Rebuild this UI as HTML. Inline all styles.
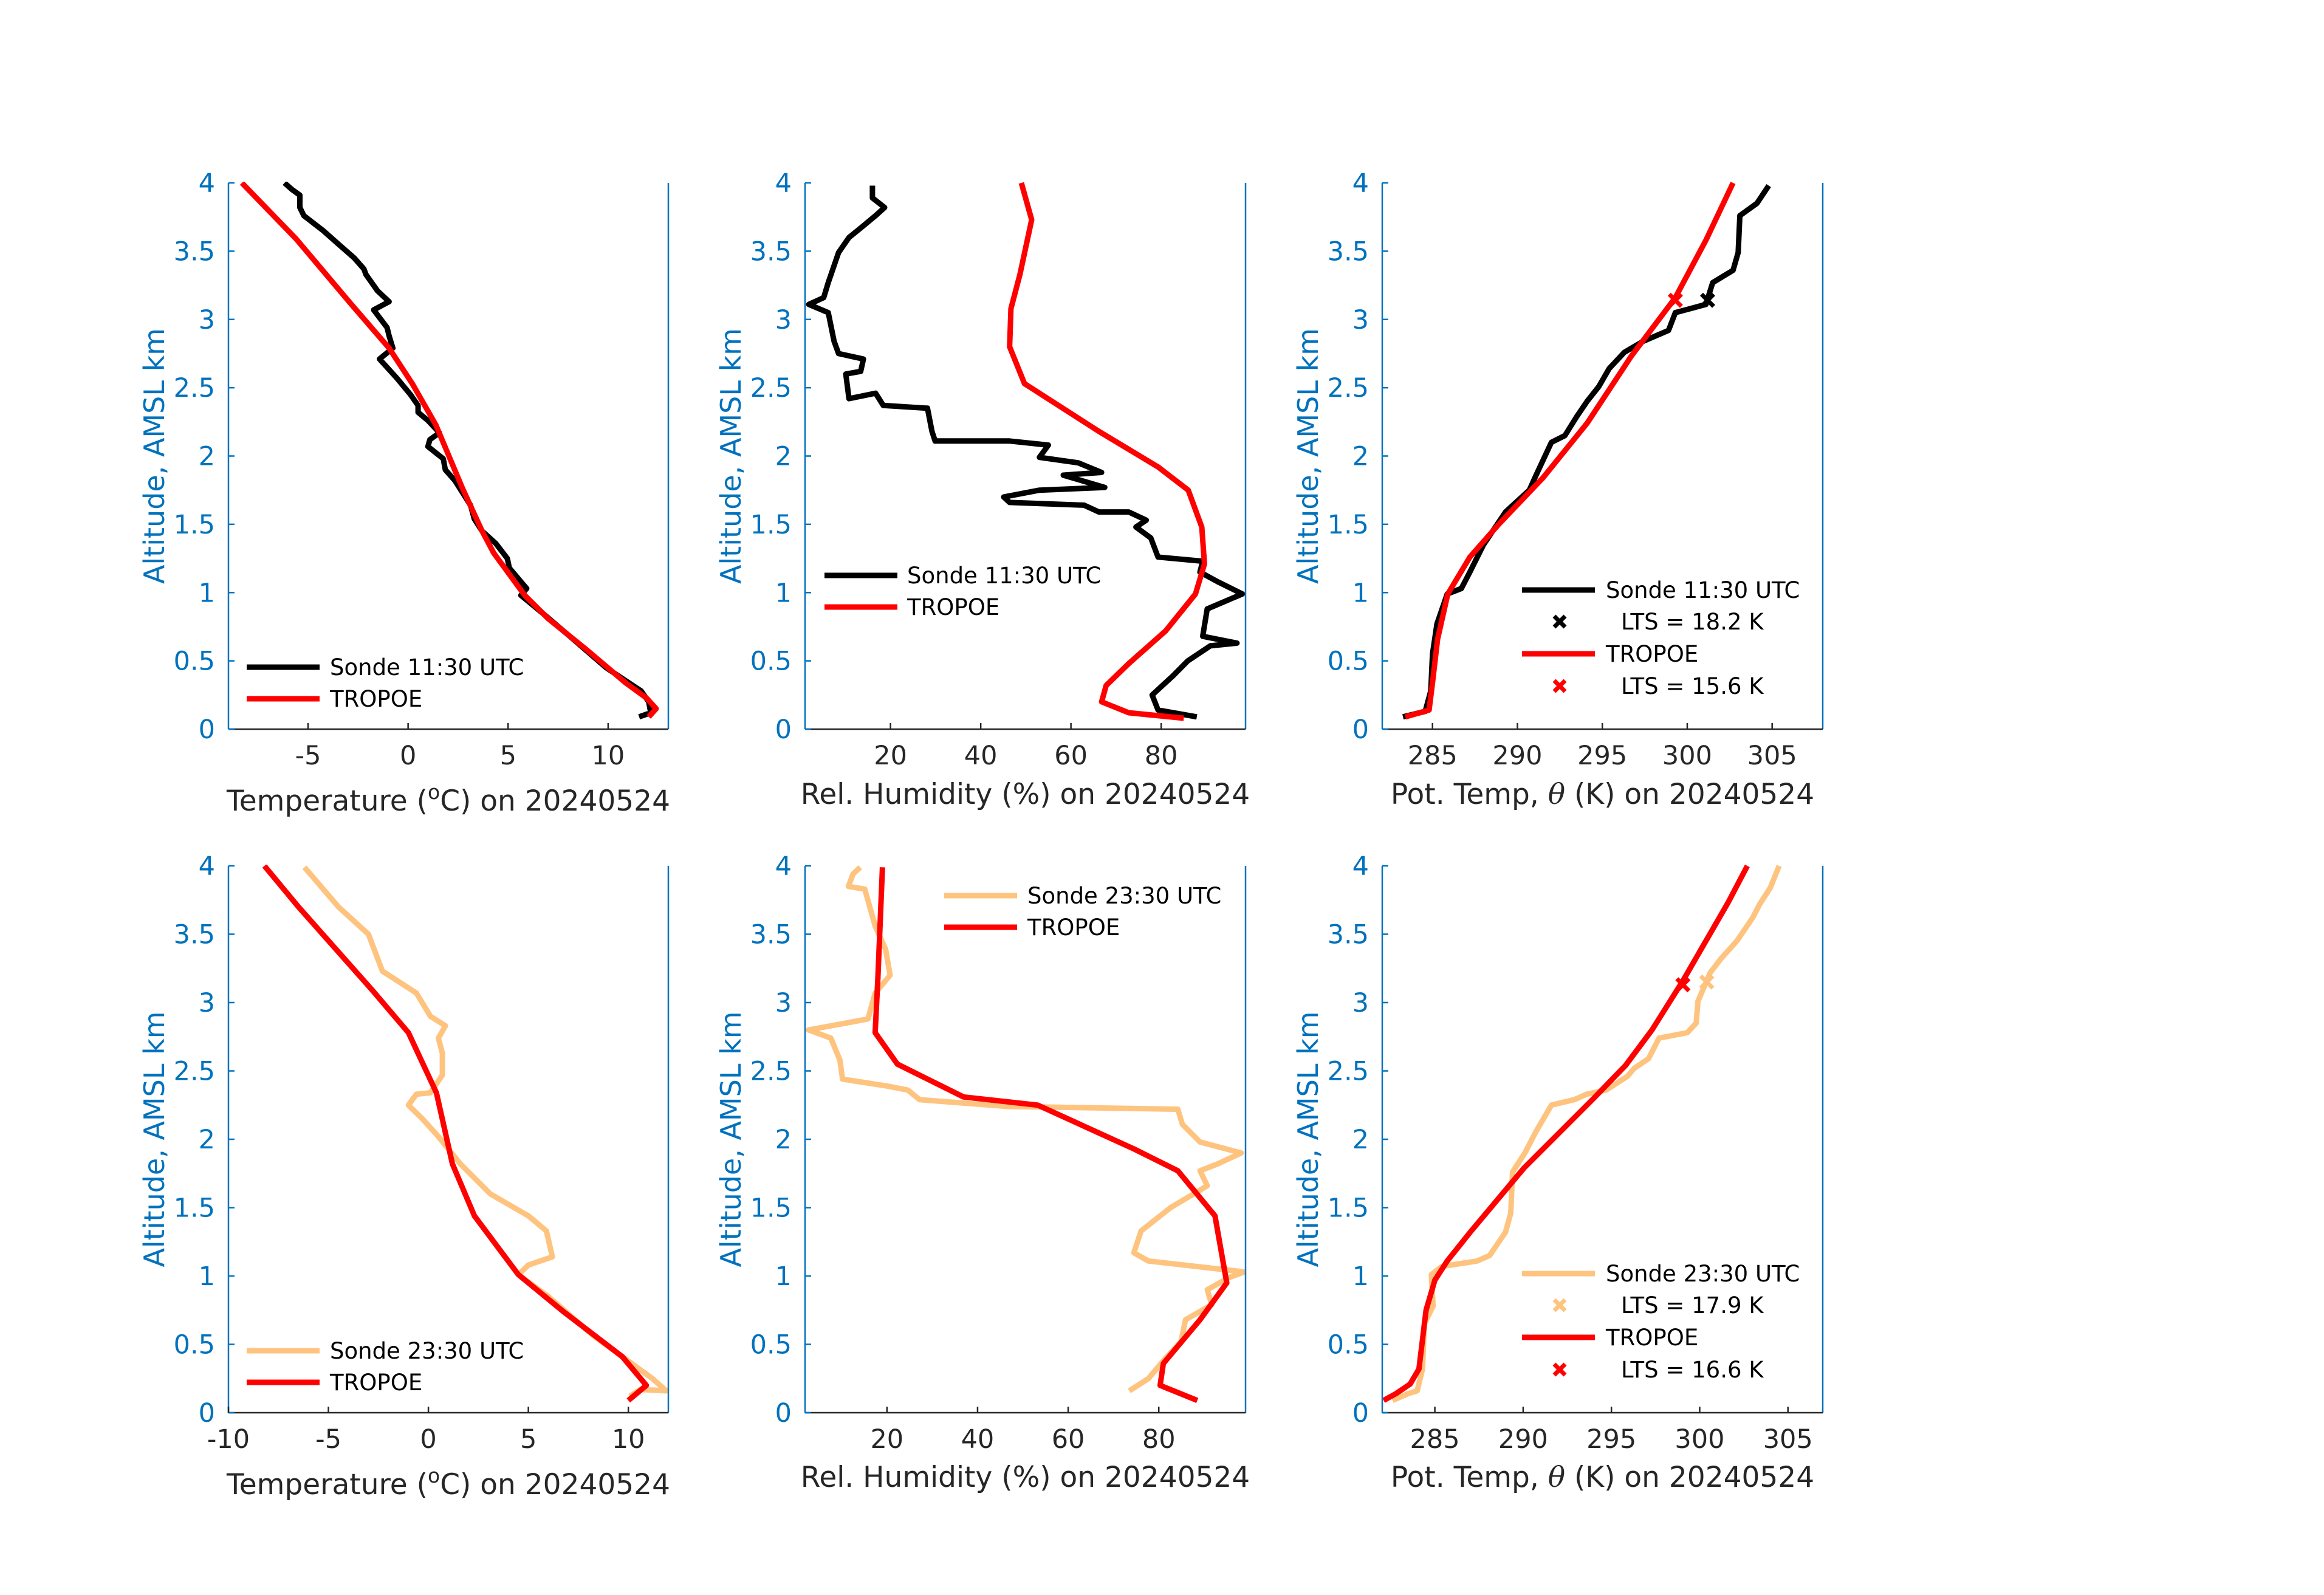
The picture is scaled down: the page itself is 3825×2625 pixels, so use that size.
<!DOCTYPE html>
<html><head><meta charset="utf-8">
<style>
html,body{margin:0;padding:0;background:#fff;}
svg{display:block;}
text{font-family:"DejaVu Sans","Liberation Sans",sans-serif;}
</style></head>
<body>
<svg id="fig" width="3825" height="2625" viewBox="0 0 3825 2625" xmlns="http://www.w3.org/2000/svg">
<rect width="3825" height="2625" fill="#fff"/>
</svg>
<script>
// ---------- data (value, altitude km) ----------
const sonde1130TempT = [11.55,12.13,12.03,11.65,9.9,8.16,6.8,5.64,5.93,5.64,5.06,4.96,4.38,3.70,3.31,3.12,2.73,2.34,1.86,1.76,0.99,1.09,1.57,0.99,0.50,0.50,0.12,-0.56,-1.43,-0.76,-0.95,-1.05,-1.72,-0.95,-1.53,-2.11,-2.21,-2.69,-3.47,-4.24,-5.21,-5.41,-5.41,-5.79,-6.18];
const sonde1130TempZ = [0.09,0.12,0.20,0.28,0.45,0.67,0.84,0.98,1.03,1.08,1.18,1.25,1.36,1.45,1.54,1.64,1.73,1.82,1.90,1.98,2.07,2.12,2.17,2.26,2.32,2.37,2.45,2.57,2.71,2.79,2.88,2.94,3.07,3.13,3.21,3.33,3.37,3.45,3.55,3.65,3.76,3.82,3.91,3.95,4.0];
const tropoeAmTempT = [12.03,12.4,11.9,10.87,8.93,7.0,5.83,4.28,3.70,2.73,1.38,0.21,-0.95,-2.89,-5.6,-8.31];
const tropoeAmTempZ = [0.09,0.15,0.23,0.34,0.58,0.81,0.98,1.29,1.45,1.76,2.23,2.53,2.79,3.12,3.59,4.0];

const sonde1130RH = [87.9,79.3,78,82.6,85.9,90.9,96.8,89.2,90.2,98,92.5,88.6,89.2,79.3,77.7,74.4,76.7,72.8,66.2,62.9,46.4,45.1,53,67.5,58.3,66.8,61.6,53,55,46.4,29.9,29.2,28.2,18.4,16.7,10.8,10.1,13.4,14,8.5,7.5,6.2,1.9,5.2,6.2,8.5,10.8,13.4,16.7,18.7,16,16];
const sonde1130RHZ = [0.09,0.14,0.25,0.39,0.5,0.61,0.63,0.68,0.88,0.99,1.08,1.15,1.23,1.26,1.40,1.48,1.53,1.59,1.59,1.64,1.66,1.70,1.75,1.77,1.86,1.88,1.95,1.99,2.08,2.11,2.11,2.18,2.35,2.37,2.46,2.42,2.60,2.62,2.71,2.75,2.84,3.05,3.11,3.16,3.27,3.49,3.60,3.67,3.76,3.82,3.89,3.98];
const tropoeAmRH = [85,72.8,66.8,67.8,72.8,81,87.6,89.6,89,86,79.3,66.2,49.7,46.4,46.7,48.7,51.3,49];
const tropoeAmRHZ = [0.08,0.12,0.20,0.32,0.48,0.72,0.99,1.21,1.48,1.75,1.92,2.18,2.53,2.80,3.08,3.33,3.73,4.0];

const sonde1130Theta = [283.26,284.57,284.9,285,285.26,285.87,286.7,287.2,288,289.3,290.7,291.1,292,292.8,293.5,294.1,294.8,295.4,296.3,297.4,298.9,299.3,301.1,301.5,302.7,303,303.1,304.1,304.8];
const sonde1130ThetaZ = [0.09,0.13,0.28,0.55,0.77,0.99,1.03,1.15,1.35,1.59,1.75,1.86,2.10,2.15,2.29,2.40,2.51,2.64,2.76,2.84,2.92,3.05,3.11,3.27,3.36,3.49,3.76,3.85,3.98];
const tropoeAmTheta = [283.4,284.8,285,285.3,285.9,287.2,288.9,291.5,294.1,296.7,299.3,301.1,302.7];
const tropoeAmThetaZ = [0.09,0.14,0.34,0.66,0.99,1.26,1.5,1.84,2.24,2.73,3.16,3.58,4.0];
const ltsAm = [[301.2,3.14],[299.3,3.14]];

const sonde2330TempT = [10.07,10.6,11.9,11.2,8.2,6.0,4.5,5.0,6.2,5.9,5.0,3.1,1.6,0.5,-0.3,-1.0,-0.6,0.1,0.7,0.7,0.5,0.85,0.1,-0.6,-2.3,-3.0,-4.5,-6.2];
const sonde2330TempZ = [0.12,0.17,0.16,0.25,0.57,0.85,1.01,1.08,1.14,1.33,1.44,1.60,1.82,2.02,2.15,2.25,2.33,2.34,2.47,2.63,2.74,2.83,2.90,3.07,3.23,3.50,3.70,3.99];
const tropoePmTempT = [10.0,10.9,9.7,6.75,4.5,2.3,1.2,0.4,-1.0,-2.8,-6.5,-8.2];
const tropoePmTempZ = [0.09,0.20,0.41,0.74,1.01,1.44,1.82,2.34,2.78,3.09,3.70,4.0];

const sonde2330RH = [73.5,77.7,81,84.9,85.9,91.7,90.7,95.6,98.9,77.7,74.5,76.1,82.6,90.7,89.1,93,98.2,89.1,85.2,84.2,46.7,27.2,24.6,20,10.2,9.6,7.6,2.7,10.9,15.8,17.4,20.7,19.7,17.4,15.1,11.5,12.5,14.1];
const sonde2330RHZ = [0.16,0.25,0.38,0.52,0.68,0.79,0.90,0.99,1.03,1.11,1.17,1.33,1.50,1.66,1.77,1.82,1.90,1.98,2.11,2.22,2.24,2.29,2.36,2.39,2.44,2.58,2.74,2.80,2.85,2.88,3.07,3.20,3.39,3.56,3.83,3.85,3.94,3.99];
const tropoePmRH = [88.5,80.3,81,89.1,95,92.4,84.2,74.5,53.3,36.9,22.3,17.4,18,19];
const tropoePmRHZ = [0.09,0.20,0.36,0.68,0.95,1.44,1.77,1.93,2.25,2.31,2.55,2.78,3.18,3.99];

const sonde2330Theta = [282.6,283.5,284.0,284.3,284.4,284.9,284.8,285.4,287.4,288.1,289.0,289.3,289.4,290.1,290.7,291.6,292.9,293.6,294.7,295.9,296.3,297.1,297.7,299.3,299.8,299.9,300.6,301.2,302.1,303.0,303.4,304.0,304.5];
const sonde2330ThetaZ = [0.09,0.14,0.16,0.32,0.65,0.78,1.01,1.07,1.11,1.15,1.32,1.46,1.76,1.90,2.05,2.25,2.29,2.33,2.36,2.46,2.52,2.59,2.74,2.78,2.85,3.01,3.22,3.32,3.45,3.62,3.72,3.84,4.0];
const tropoePmTheta = [282.1,282.8,283.6,284.1,284.5,285,285.7,287,290.05,294,295.8,297.3,299.05,301.6,302.7];
const tropoePmThetaZ = [0.09,0.14,0.21,0.32,0.75,0.97,1.11,1.32,1.79,2.30,2.54,2.80,3.16,3.73,4.0];
const ltsPm = [[300.4,3.15],[299.05,3.13]];

const altTicks = [0,0.5,1,1.5,2,2.5,3,3.5,4];
const altTickLabels = ['0','0.5','1','1.5','2','2.5','3','3.5','4'];
const tempTicksTop = [-5,0,5,10];
const tempTicksBottom = [-10,-5,0,5,10];
const rhTicks = [20,40,60,80];
const thetaTicks = [285,290,295,300,305];

// ---------- drawing ----------
const NS = 'http://www.w3.org/2000/svg';
const svg = document.getElementById('fig');
const BLUE = '#0072BD', DARK = '#262626', RED = '#FF0000', ORANGE = '#FEC47F';

function mk(tag, attrs, parent){
  const e = document.createElementNS(NS, tag);
  for (const k in attrs) e.setAttribute(k, attrs[k]);
  (parent || svg).appendChild(e);
  return e;
}

function panel(o){
  const g = mk('g', {});
  
  
  const L=o.x0, R=o.x1, T=o.y0, B=o.y1;
  const sx = v => L + (v - o.xmin) / (o.xmax - o.xmin) * (R - L);
  const sy = v => B - v / 4 * (B - T);
  const cid = 'clip-' + o.name;
  const cp = mk('clipPath', {id: cid}, g);
  mk('rect', {x: L, y: T - 2, width: R - L, height: B - T + 4}, cp);
  o.series.forEach(s => {
    const pts = s.x.map((v, i) => sx(v).toFixed(1) + ',' + sy(s.z[i]).toFixed(1)).join(' ');
    const pl = mk('polyline', {points: pts, fill: 'none', stroke: s.color, 'stroke-width': 9, 'stroke-linejoin': 'round', 'clip-path': 'url(#' + cid + ')'}, g);
    
    
  });
  (o.markers || []).forEach(m => {
    const cx = sx(m.v[0]), cy = sy(m.v[1]);
    const mg = mk('g', {stroke: m.color, 'stroke-width': 7}, g);
    
    
    mk('line', {x1: cx - 10, y1: cy - 10, x2: cx + 10, y2: cy + 10}, mg);
    mk('line', {x1: cx - 10, y1: cy + 10, x2: cx + 10, y2: cy - 10}, mg);
  });
  const ya = mk('line', {x1: L, y1: T, x2: L, y2: B, stroke: BLUE, 'stroke-width': 2.5}, g);
  
  
  const ya2 = mk('line', {x1: R, y1: T, x2: R, y2: B, stroke: BLUE, 'stroke-width': 2.5}, g);
  
  
  const xa = mk('line', {x1: L, y1: B, x2: R, y2: B, stroke: DARK, 'stroke-width': 2.5}, g);
  
  
  altTicks.forEach((v, i) => {
    const y = sy(v);
    mk('line', {x1: L, y1: y, x2: L + 10, y2: y, stroke: BLUE, 'stroke-width': 2.5}, g);
    const t = mk('text', {x: L - 22, y: y + 15, 'text-anchor': 'end', 'font-size': 43, fill: BLUE}, g);
    t.textContent = altTickLabels[i];
    
    
  });
  o.xticks.forEach(v => {
    const x = sx(v);
    mk('line', {x1: x, y1: B, x2: x, y2: B - 10, stroke: DARK, 'stroke-width': 2.5}, g);
    const t = mk('text', {x: x, y: B + 58, 'text-anchor': 'middle', 'font-size': 43, fill: DARK}, g);
    t.textContent = String(v);
    
    
  });
  const yl = mk('text', {x: 0, y: 0, 'text-anchor': 'middle', 'font-size': 46, fill: BLUE, transform: 'translate(' + (L - 106) + ',' + ((T + B) / 2) + ') rotate(-90)'}, g);
  yl.textContent = 'Altitude, AMSL km';
  
  
  const xl = mk('text', {x: (L + R) / 2, y: B + o.titleDy, 'text-anchor': 'middle', 'font-size': 47, fill: DARK}, g);
  xl.innerHTML = o.title;
  
  
  const lg = mk('g', {}, g);
  
  
  o.legend.forEach(e => {
    if (e.type === 'line') {
      mk('line', {x1: e.lx0, y1: e.y, x2: e.lx0 + 120, y2: e.y, stroke: e.color, 'stroke-width': 9}, lg);
    } else {
      const cx = e.mx;
      mk('line', {x1: cx - 9, y1: e.y - 9, x2: cx + 9, y2: e.y + 9, stroke: e.color, 'stroke-width': 7}, lg);
      mk('line', {x1: cx - 9, y1: e.y + 9, x2: cx + 9, y2: e.y - 9, stroke: e.color, 'stroke-width': 7}, lg);
    }
    const t = mk('text', {x: e.tx, y: e.y + 13, 'font-size': 37, fill: '#000'}, lg);
    t.textContent = e.text;
    
    
  });
}

const tempTitle = 'Temperature (<tspan font-size="33" dy="-19">o</tspan><tspan dy="19">C) on 20240524</tspan>';
const rhTitle = 'Rel. Humidity (%) on 20240524';
const thTitle = 'Pot. Temp, <tspan font-family="DejaVu Serif, Liberation Serif, serif" font-style="italic">θ</tspan> (K) on 20240524';

panel({name:'temp-1130-panel', x0:376, x1:1100, y0:301, y1:1200, xmin:-8.98, xmax:13.01, xticks:tempTicksTop, title:tempTitle, titleDy:134,
  series:[{name:'sonde-1130-temp', x:sonde1130TempT, z:sonde1130TempZ, color:'#000'},{name:'tropoe-am-temp', x:tropoeAmTempT, z:tropoeAmTempZ, color:RED}],
  legend:[{type:'line', lx0:406, y:1098, tx:543, color:'#000', text:'Sonde 11:30 UTC'},{type:'line', lx0:406, y:1150, tx:543, color:RED, text:'TROPOE'}]});

panel({name:'rh-1130-panel', x0:1325, x1:2050, y0:301, y1:1200, xmin:1.06, xmax:98.7, xticks:rhTicks, title:rhTitle, titleDy:123,
  series:[{name:'sonde-1130-rh', x:sonde1130RH, z:sonde1130RHZ, color:'#000'},{name:'tropoe-am-rh', x:tropoeAmRH, z:tropoeAmRHZ, color:RED}],
  legend:[{type:'line', lx0:1357, y:947, tx:1493, color:'#000', text:'Sonde 11:30 UTC'},{type:'line', lx0:1357, y:999, tx:1493, color:RED, text:'TROPOE'}]});

panel({name:'theta-1130-panel', x0:2275, x1:3000, y0:301, y1:1200, xmin:282.04, xmax:307.98, xticks:thetaTicks, title:thTitle, titleDy:123,
  series:[{name:'sonde-1130-theta', x:sonde1130Theta, z:sonde1130ThetaZ, color:'#000'},{name:'tropoe-am-theta', x:tropoeAmTheta, z:tropoeAmThetaZ, color:RED}],
  markers:[{name:'sonde-lts-marker', v:ltsAm[0], color:'#000'},{name:'tropoe-lts-marker', v:ltsAm[1], color:RED}],
  legend:[{type:'line', lx0:2505, y:971, tx:2643, color:'#000', text:'Sonde 11:30 UTC'},{type:'marker', mx:2567, y:1023, tx:2668, color:'#000', text:'LTS = 18.2 K'},
          {type:'line', lx0:2505, y:1076, tx:2643, color:RED, text:'TROPOE'},{type:'marker', mx:2567, y:1129, tx:2668, color:RED, text:'LTS = 15.6 K'}]});

panel({name:'temp-2330-panel', x0:376, x1:1100, y0:1425, y1:2325, xmin:-10, xmax:12, xticks:tempTicksBottom, title:tempTitle, titleDy:134,
  series:[{name:'sonde-2330-temp', x:sonde2330TempT, z:sonde2330TempZ, color:ORANGE},{name:'tropoe-pm-temp', x:tropoePmTempT, z:tropoePmTempZ, color:RED}],
  legend:[{type:'line', lx0:406, y:2223, tx:543, color:ORANGE, text:'Sonde 23:30 UTC'},{type:'line', lx0:406, y:2275, tx:543, color:RED, text:'TROPOE'}]});

panel({name:'rh-2330-panel', x0:1325, x1:2050, y0:1425, y1:2325, xmin:1.92, xmax:99.15, xticks:rhTicks, title:rhTitle, titleDy:122,
  series:[{name:'sonde-2330-rh', x:sonde2330RH, z:sonde2330RHZ, color:ORANGE},{name:'tropoe-pm-rh', x:tropoePmRH, z:tropoePmRHZ, color:RED}],
  legend:[{type:'line', lx0:1554, y:1474, tx:1691, color:ORANGE, text:'Sonde 23:30 UTC'},{type:'line', lx0:1554, y:1526, tx:1691, color:RED, text:'TROPOE'}]});

panel({name:'theta-2330-panel', x0:2275, x1:3000, y0:1425, y1:2325, xmin:282.02, xmax:306.97, xticks:thetaTicks, title:thTitle, titleDy:122,
  series:[{name:'sonde-2330-theta', x:sonde2330Theta, z:sonde2330ThetaZ, color:ORANGE},{name:'tropoe-pm-theta', x:tropoePmTheta, z:tropoePmThetaZ, color:RED}],
  markers:[{name:'sonde-lts-marker', v:ltsPm[0], color:ORANGE},{name:'tropoe-lts-marker', v:ltsPm[1], color:RED}],
  legend:[{type:'line', lx0:2505, y:2096, tx:2643, color:ORANGE, text:'Sonde 23:30 UTC'},{type:'marker', mx:2567, y:2148, tx:2668, color:ORANGE, text:'LTS = 17.9 K'},
          {type:'line', lx0:2505, y:2201, tx:2643, color:RED, text:'TROPOE'},{type:'marker', mx:2567, y:2254, tx:2668, color:RED, text:'LTS = 16.6 K'}]});
</script>
</body></html>
